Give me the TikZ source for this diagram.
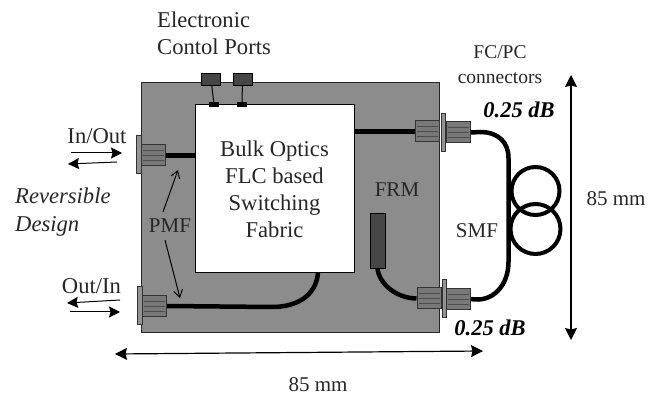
\documentclass[tikz,border=0pt]{standalone}
\usepackage{fontspec}
\setmainfont{Liberation Serif}
\usetikzlibrary{arrows.meta}
\definecolor{board}{RGB}{140, 140, 140}
\definecolor{plug}{RGB}{120, 120, 120}
\definecolor{port}{RGB}{70, 70, 70}

\begin{document}
\begin{tikzpicture}[
   x=1pt, y=-1pt,
   txt/.style={font=\fontsize{22.6}{27}\selectfont, inner sep=0, align=center, text=black!85},
   midtxt/.style={font=\fontsize{21}{24}\selectfont, inner sep=0, align=center, text=black!85},
   smalltxt/.style={font=\fontsize{19.5}{25}\selectfont, inner sep=0, align=center, text=black!85},
   loss/.style={font=\fontsize{22.5}{25}\selectfont\bfseries\itshape, inner sep=0},
   boardbox/.style={rectangle, draw=black!85, fill=board, line width=1, inner sep=0},
   fabric/.style={rectangle, draw=black, fill=white, line width=1, inner sep=0},
   plugbody/.style={rectangle, draw=black!80, fill=plug, line width=1, inner sep=0,
                    minimum width=24, minimum height=21},
   flange/.style={rectangle, draw=black!80, fill=plug!80, line width=0.8, inner sep=0,
                  minimum width=4.5, minimum height=38},
   ctrl/.style={rectangle, draw=black, fill=port, line width=0.8, inner sep=0,
                minimum width=19, minimum height=12},
   pin/.style={rectangle, fill=black, inner sep=0, minimum width=10, minimum height=5},
   frmbox/.style={rectangle, draw=black, fill=port, line width=0.8, inner sep=0,
                  minimum width=15, minimum height=55},
   fiber/.style={line width=4.5, black},
   flow/.style={-{Stealth[length=11, width=11, inset=1.5]}, line width=1},
   hint/.style={-{Straight Barb[length=7, width=9]}, line width=1},
   dim/.style={{Stealth[length=12, width=12, inset=1.5]}-{Stealth[length=12, width=12, inset=1.5]}, line width=1.2}
  ]

  \useasboundingbox (0, 0) rectangle (662, 395);

  % Board and fabric
  \node (B) at (290, 208) [boardbox, minimum width=298, minimum height=250] {};
  \node (F) at (274.5, 189) [fabric, minimum width=159, minimum height=168, txt] {Bulk Optics\\FLC based\\Switching\\Fabric};

  % Control ports
  \node (C1) at (211, 79) [ctrl] {};
  \node (C2) at (242.5, 79) [ctrl] {};
  \node (P1) at (214, 104.5) [pin] {};
  \node (P2) at (242, 104.5) [pin] {};
  \foreach \B/\E in {C1/P1, C2/P2} {
    \draw[line width=1] (\B) -- (\E);
  }

  % Fibers
  \coordinate (G1) at (318, 273);
  \node (L1) at (153, 155.5) [plugbody] {};
  \node (L2) at (154.5, 306) [plugbody] {};
  \node (A1) at (427, 131.5) [plugbody] {};
  \node (A2) at (458.5, 132.5) [plugbody] {};
  \node (D1) at (429, 298.5) [plugbody] {};
  \node (D2) at (458.5, 299) [plugbody] {};
  \node (M) at (377.5, 240.5) [frmbox] {};

  \draw[fiber] (L1.east) -- (F.west |- L1);
  \draw[fiber] (L2.east) -- (272, 307) .. controls (298, 307) and (316, 295) .. (G1);
  \draw[fiber] (F.east |- A1) -- (A1.west);
  \draw[fiber] (M.south) .. controls (379, 283) and (395, 298) .. (D1.west);
  \draw[fiber] (A2.east) -- (480, 132) .. controls (498, 132) and (508.5, 142) .. (508.5, 158)
     -- (508.5, 262) .. controls (508.5, 285) and (493, 303) .. (D2.east);
  \draw[line width=4] (535.5, 191) circle (24);
  \draw[line width=4] (535.5, 229) circle (25);

  % Connector lines
  \foreach \P in {L1, L2, A1, A2, D1, D2} {
    \foreach \Y in {-5, 0, 5} {
      \draw[black!70, line width=0.7] ([xshift=2, yshift=\Y]\P.west) -- ([xshift=-2, yshift=\Y]\P.east);
    }
  }
  \node (FL1) at (139, 154) [flange] {};
  \node (FL2) at (140, 305.5) [flange] {};
  \node (FA) at (443.5, 132) [flange] {};
  \node (FD) at (444.5, 298) [flange] {};

  % Arrows
  \coordinate (I1a) at (71, 153);
  \coordinate (I1b) at (122, 153);
  \coordinate (I2a) at (117, 162);
  \coordinate (I2b) at (68, 164);
  \coordinate (O1a) at (120, 300);
  \coordinate (O1b) at (67, 303);
  \coordinate (O2a) at (70, 312);
  \coordinate (O2b) at (120, 312);
  \foreach \B/\E in {I1a/I1b, I2a/I2b, O1a/O1b, O2a/O2b} {
    \draw[flow] (\B) -- (\E);
  }

  \node (PMF) at (170, 226) [midtxt] {PMF};
  \coordinate (T1) at (178, 170);
  \coordinate (T2) at (180, 298);
  \draw[hint] (PMF.north) ++(-7, -7) -- (T1);
  \draw[hint] (PMF.south) ++(-5, 7) -- (T2);

  \coordinate (V1) at (571, 75);
  \coordinate (V2) at (571, 340);
  \coordinate (H1) at (115, 354);
  \coordinate (H2) at (483, 351);
  \draw[dim] (V1) -- (V2);
  \draw[dim] (H1) -- (H2);

  % Labels
  \node at (157, 33.5) [txt, anchor=west, align=left] {Electronic\\Contol Ports};
  \node at (500, 64.5) [smalltxt] {FC/PC\\connectors};
  \node at (519, 110) [loss] {0.25 dB};
  \node at (490, 328) [loss] {0.25 dB};
  \node at (97, 136) [txt] {In/Out};
  \node at (91.5, 286) [txt] {Out/In};
  \node at (15, 212) [txt, anchor=west, align=left, font=\fontsize{22.6}{28}\selectfont\itshape] {Reversible\\Design};
  \node at (397, 190) [midtxt] {FRM};
  \node at (477, 231) [midtxt] {SMF};
  \node at (616, 199) [midtxt] {85 mm};
  \node at (318, 385) [midtxt] {85 mm};

\end{tikzpicture}
\end{document}
